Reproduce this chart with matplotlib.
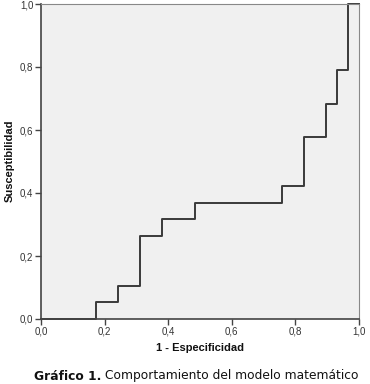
import matplotlib
matplotlib.use("Agg")
import matplotlib.pyplot as plt
from matplotlib.ticker import FuncFormatter

# ROC curve points (1 - especificidad, susceptibilidad)
fpr = [0.0, 0.172, 0.241, 0.310, 0.379, 0.483, 0.759, 0.828, 0.897, 0.931, 0.966, 1.0]
tpr = [0.0, 0.053, 0.105, 0.263, 0.316, 0.368, 0.421, 0.579, 0.684, 0.789, 1.0, 1.0]
ticks = [0.0, 0.2, 0.4, 0.6, 0.8, 1.0]

fig = plt.figure(figsize=(3.7, 3.84), dpi=100)
ax = fig.add_axes([41 / 370, 1 - 319 / 384, 318 / 370, 315 / 384])
ax.set_facecolor("#f0f0f0")

ax.step(fpr, tpr, where="post", color="#3a3a3a", lw=1.4, clip_on=False)

ax.set_xlim(0, 1)
ax.set_ylim(0, 1)
ax.set_xticks(ticks)
ax.set_yticks(ticks)
fmt = FuncFormatter(lambda v, p: f"{v:.1f}".replace(".", ","))
ax.xaxis.set_major_formatter(fmt)
ax.yaxis.set_major_formatter(fmt)
ax.tick_params(length=4, width=1, color="#444444", labelsize=7,
               labelcolor="#333333", pad=1.5, direction="out")
for lab in ax.get_xticklabels() + ax.get_yticklabels():
    lab.set_family("Liberation Sans")

ax.spines["left"].set_color("#444444")
ax.spines["bottom"].set_color("#444444")
ax.spines["left"].set_linewidth(1.2)
ax.spines["bottom"].set_linewidth(1.2)
ax.spines["top"].set_color("#888888")
ax.spines["right"].set_color("#888888")

fig.text(200 / 370, 1 - 348 / 384, "1 - Especificidad", ha="center", va="center",
         fontsize=8, fontweight="bold", family="Liberation Sans", color="#111111")
fig.text(10 / 370, 1 - 161 / 384, "Susceptibilidad", ha="center", va="center",
         rotation=90, fontsize=8, fontweight="bold", family="Liberation Sans",
         color="#111111")

# caption: bold label + regular text
caption_y = 1 - 376 / 384
a = fig.text(34 / 370, caption_y, "Gráfico 1.", ha="left", va="center",
             fontsize=8.8, fontweight="bold", family="DejaVu Sans", color="#111111")
fig.canvas.draw()
bb = a.get_window_extent()
x2 = (bb.x1 + 4) / fig.bbox.width
fig.text(x2, caption_y, "Comportamiento del modelo matemático", ha="left", va="center",
         fontsize=8.8, family="DejaVu Sans", color="#111111")

fig.savefig("out.png", dpi=100, facecolor="white")
